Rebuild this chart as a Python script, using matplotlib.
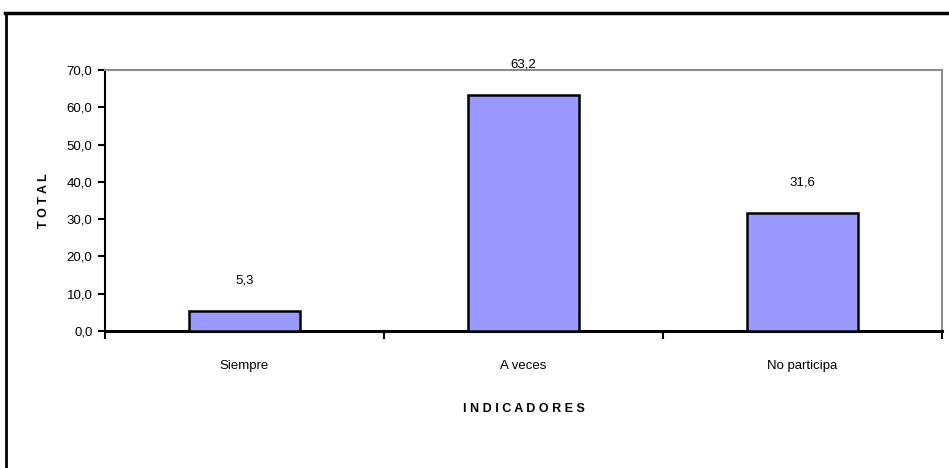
import matplotlib
matplotlib.use("Agg")
import matplotlib.pyplot as plt
from matplotlib.lines import Line2D
from matplotlib import font_manager

categories = ["Siempre", "A veces", "No participa"]
values = [5.3, 63.2, 31.6]
value_labels = ["5,3", "63,2", "31,6"]
y_ticks = [0, 10, 20, 30, 40, 50, 60, 70]
y_tick_labels = ["0,0", "10,0", "20,0", "30,0", "40,0", "50,0", "60,0", "70,0"]

names = {f.name for f in font_manager.fontManager.ttflist}
family = "Liberation Sans Narrow" if "Liberation Sans Narrow" in names else "Liberation Sans"
plt.rcParams["font.family"] = [family, "DejaVu Sans"]

fig = plt.figure(figsize=(9.49, 4.68), dpi=100)
ax = fig.add_axes([105 / 949, 1 - 331 / 468, (942 - 105) / 949, (331 - 70) / 468])

x = [i + 0.5 for i in range(len(categories))]
ax.bar(x, values, width=0.4, color="#9999FF", edgecolor="black", linewidth=1.8, zorder=3)

for xi, v, lab in zip(x, values, value_labels):
    ax.annotate(lab, (xi, v), xytext=(0, 22), textcoords="offset points",
                ha="center", va="center", fontsize=9.5)

ax.set_xlim(0, 3)
ax.set_ylim(0, 70)
ax.set_yticks(y_ticks)
ax.set_yticklabels(y_tick_labels, fontsize=9.5)
ax.set_xticks([0, 1, 2, 3])
ax.set_xticklabels([])
ax.set_xticks(x, minor=True)
ax.set_xticklabels(categories, minor=True, fontsize=9.5)
ax.tick_params(axis="x", which="minor", length=0, pad=21)
ax.tick_params(axis="x", which="major", length=6, width=1.5, direction="out", color="black")
ax.tick_params(axis="y", length=5, width=1.5, direction="out", pad=4)

for side in ("top", "right"):
    ax.spines[side].set_color("#8c8c8c")
    ax.spines[side].set_linewidth(1.5)
ax.spines["left"].set_color("black")
ax.spines["left"].set_linewidth(1.5)
ax.spines["bottom"].set_color("black")
ax.spines["bottom"].set_linewidth(2.2)

ax.set_xlabel("I N D I C A D O R E S", fontsize=9, fontweight="bold", labelpad=22)
ax.set_ylabel("T O T A L", fontsize=9, fontweight="bold", labelpad=12)

# outer chart frame
fig.add_artist(Line2D([5 / 949, 1.0], [1 - 13 / 468, 1 - 13 / 468], color="black", lw=2.5,
                      transform=fig.transFigure))
fig.add_artist(Line2D([6 / 949, 6 / 949], [0, 1 - 13 / 468], color="black", lw=2.0,
                      transform=fig.transFigure))

fig.savefig("out.png", dpi=100)
